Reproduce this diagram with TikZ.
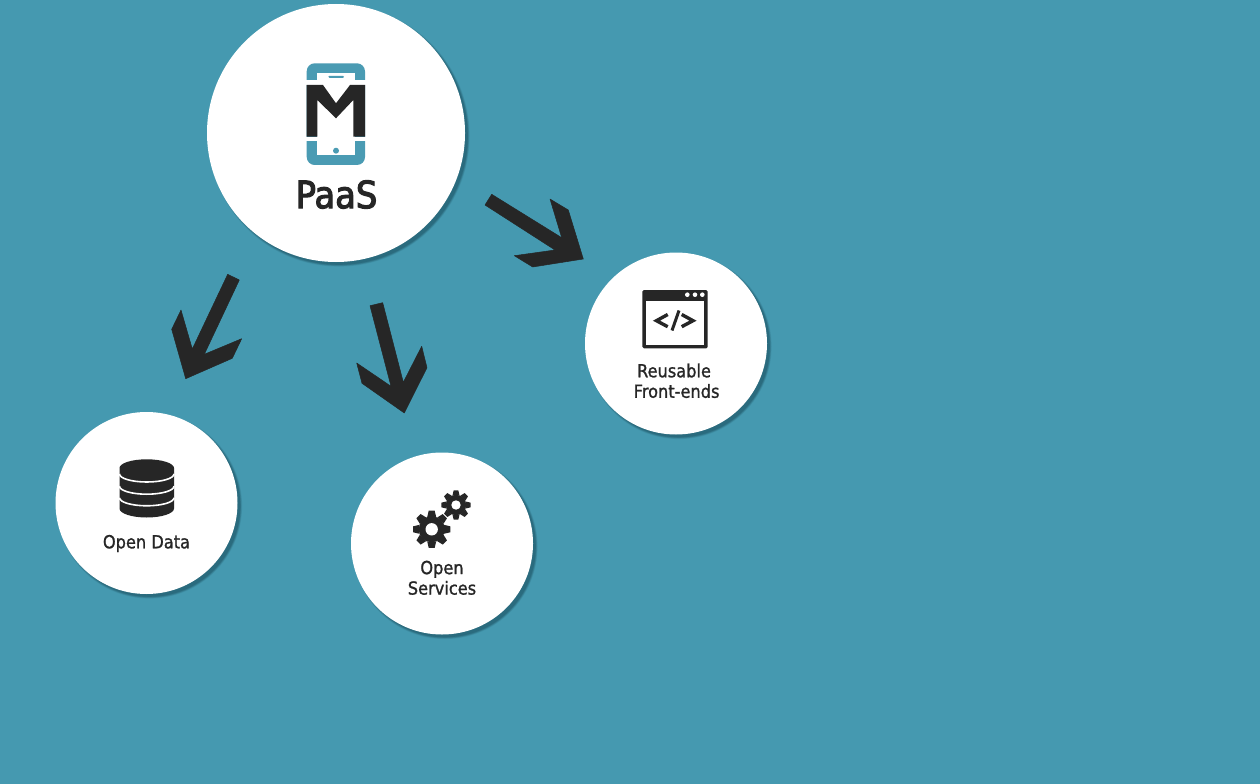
\documentclass[tikz,border=0pt]{standalone}
\usepackage{fontspec}
\setmainfont[FakeStretch=0.9,FakeBold=1.2]{DejaVu Sans}
\newfontfamily\headfont[FakeStretch=0.9,FakeBold=3]{DejaVu Sans}
\definecolor{bg}{HTML}{4599B0}
\definecolor{ink}{HTML}{262626}
\definecolor{phone}{HTML}{4A9BB3}
\definecolor{shadowteal}{HTML}{1F5566}
\tikzset{
  px/.style={x=1pt,y=-1pt},
  arrowshape/.style={fill=ink,draw=ink,line width=0.5pt,line join=round},
  label/.style={text=ink,font=\fontsize{18}{20.5}\selectfont,align=center,inner sep=0pt},
  biglabel/.style={text=ink,font=\headfont\fontsize{37.5}{40}\selectfont,inner sep=0pt},
}
\newcommand{\softshadow}[3]{%
  \foreach \d/\op in {1.6/0.14,1.0/0.2,0.4/0.26,-0.2/0.35}{%
    \fill[shadowteal,opacity=\op] (#1+3,#2+3) circle ({#3+\d});
  }%
}
\newcommand{\gearshape}[3]{% x y outer
  \foreach \a in {0,45,...,315}{%
    \fill[ink,rotate around={\a:(#1,#2)}] (#1-0.24*#3,#2-0.66*#3) -- (#1-0.16*#3,#2-#3) -- (#1+0.16*#3,#2-#3) -- (#1+0.24*#3,#2-0.66*#3) -- cycle;
  }%
  \fill[ink] (#1,#2) circle ({0.7*#3});
}
\begin{document}
\begin{tikzpicture}[px]
\useasboundingbox (0,0) rectangle (1260,783.5);
\fill[bg] (-5,-5) rectangle (1265,790);
% discs
\softshadow{336}{133}{129}
\softshadow{676}{343.5}{91}
\softshadow{146.5}{503}{91}
\softshadow{442}{543.5}{91}
\fill[white] (336,133) circle (129);
\fill[white] (676,343.5) circle (91);
\fill[white] (146.5,503) circle (91);
\fill[white] (442,543.5) circle (91);
% arrows
\draw[arrowshape] (485,205) -- (491.7,194.3) -- (561.7,237.7) -- (550,199) -- (568.3,210) -- (583.3,259) -- (532.7,267) -- (514.3,255.7) -- (555,250) -- cycle;
\draw[arrowshape] (227.7,274.3) -- (239.3,280) -- (204.3,354.3) -- (241.7,338.7) -- (232.3,358.3) -- (185.7,378.7) -- (171.7,329.3) -- (181,310) -- (192.3,349) -- cycle;
\draw[arrowshape] (370,305.7) -- (382.7,302.7) -- (403.3,382.3) -- (421.7,346.3) -- (427,367.7) -- (404.3,413) -- (362,383.3) -- (356.7,363) -- (391,386.3) -- cycle;
% phone logo
\fill[phone,rounded corners=8] (306.7,63.3) rectangle (365,165);
\fill[white] (317.3,73.3) rectangle (355,155);
\fill[phone,rounded corners=1] (328.3,75.8) rectangle (344,77.8);
\fill[phone] (336,150.7) circle (3);
\fill[white] (300,80) rectangle (370,85);
\fill[white] (300,136.7) rectangle (370,141);
\fill[ink] (306.7,85) -- (323,85) -- (336,103.3) -- (350,85) -- (365,85) -- (365,136.7) -- (353.3,136.7) -- (353.3,100) -- (336,118.3) -- (317.3,100) -- (317.3,136.7) -- (306.7,136.7) -- cycle;
\node[biglabel] (paas) at (336.5,194.5) {PaaS};
% window icon
\fill[ink,rounded corners=1.5] (642.3,290) rectangle (707.7,348.3);
\fill[white] (646,300.7) rectangle (704,345);
\foreach \x in {687.3,695,702.3}{\fill[white] (\x,294.7) circle (2.3);}
\draw[ink,line width=3.4pt,miter limit=10] (667.7,314.5) -- (656.5,320.7) -- (667.7,326.7);
\draw[ink,line width=3.4pt,miter limit=10] (681.7,314.5) -- (693,320.7) -- (681.7,326.7);
\draw[ink,line width=3pt] (679,310.5) -- (672,330.5);
\node[label] (fe) at (674,380.8) {Reusable\\\ Front-ends};
% database
\fill[ink] (119.5,468) -- (119.5,508.5) arc[start angle=180,end angle=0,x radius=27.25,y radius=9] -- (174,468) arc[start angle=0,end angle=-180,x radius=27.25,y radius=8.7] -- cycle;
\foreach \y in {474,486.2,497.8}{
  \draw[white,line width=1.6pt] (119.5,\y) arc[start angle=180,end angle=0,x radius=27.25,y radius=8];
}
\node[label] (od) at (146.5,543.5) {Open Data};
% gears
\gearshape{431.7}{529.3}{18.6}
\fill[white] (431.7,529.3) circle (6.2);
\gearshape{456}{505}{14.6}
\fill[white] (456,505) circle (4.7);
\node[label] (os) at (442,577.8) {Open\\Services};
\end{tikzpicture}
\end{document}
